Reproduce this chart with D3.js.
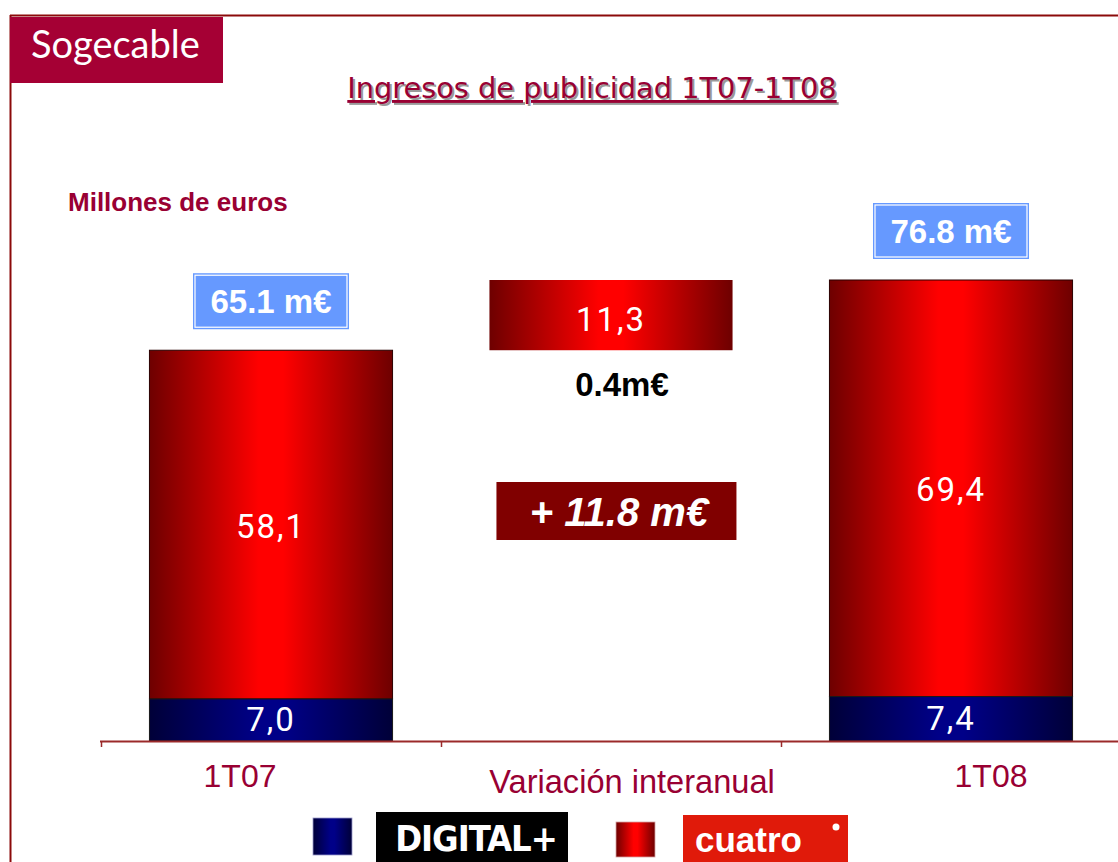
<!DOCTYPE html>
<html><head><meta charset="utf-8">
<script src="https://cdn.jsdelivr.net/npm/d3@7"></script>
<style>html,body{margin:0;padding:0;background:#fff;}svg{display:block;}</style>
</head><body>
<script>
// ---- data ----
const categories = ["1T07", "Variación interanual", "1T08"];
const digitalValues = [7.0, null, 7.4];      // DIGITAL+
const cuatroValues = [58.1, null, 69.4];     // cuatro
const variationCuatro = 11.3;
const variationDigital = 0.4;
const totalLabels = ["65.1 m€", null, "76.8 m€"];
const variationTotalLabel = "+ 11.8 m€";
const variationDigitalLabel = "0.4m€";
const fmt = v => d3.format(".1f")(v).replace(".", ",");

const W = 1118, H = 862;
const crimson = "#990033";
const svg = d3.select("body").append("svg").attr("width", W).attr("height", H);
const defs = svg.append("defs");
function hGrad(id, edge, mid) {
  const g = defs.append("linearGradient").attr("id", id).attr("x1", "0%").attr("x2", "100%").attr("y1", "0%").attr("y2", "0%");
  g.append("stop").attr("offset", "0%").attr("stop-color", edge);
  g.append("stop").attr("offset", "45%").attr("stop-color", mid);
  g.append("stop").attr("offset", "55%").attr("stop-color", mid);
  g.append("stop").attr("offset", "100%").attr("stop-color", edge);
}
hGrad("gRed", "#6e0000", "#ff0000");
hGrad("gBlue", "#000038", "#000088");

// frame
svg.append("line").attr("x1", 10).attr("x2", W).attr("y1", 15.5).attr("y2", 15.5).attr("stroke", "#8b0a0a").attr("stroke-width", 2);
svg.append("line").attr("x1", 10.5).attr("x2", 10.5).attr("y1", 15).attr("y2", H).attr("stroke", "#8b0a0a").attr("stroke-width", 2);

// logo box
svg.append("rect").attr("x", 10).attr("y", 17).attr("width", 213).attr("height", 66).attr("fill", "#a50034");
svg.append("text").attr("x", 31).attr("y", 58).attr("fill", "#fff")
  .style("font-family", "Lato, 'Open Sans', sans-serif").style("font-size", "38px").text("Sogecable");

// title with shadow
const titleText = "Ingresos de publicidad 1T07-1T08";
svg.append("text").attr("x", 594).attr("y", 100).attr("text-anchor", "middle").attr("fill", "#9a9a9a")
  .style("font-family", "'DejaVu Sans', sans-serif").style("font-size", "28.8px").style("text-decoration", "underline").text(titleText);
svg.append("text").attr("x", 592).attr("y", 98).attr("text-anchor", "middle").attr("fill", crimson)
  .style("font-family", "'DejaVu Sans', sans-serif").style("font-size", "28.8px").style("text-decoration", "underline").text(titleText);

svg.append("text").attr("x", 68).attr("y", 211).attr("fill", crimson)
  .style("font-family", "'Liberation Sans', Arial, sans-serif").style("font-weight", "bold").style("font-size", "26px").text("Millones de euros");

// scales
const x = d3.scaleBand().domain(categories).range([101, 1121]).padding(0);
const barW = x.bandwidth() * 0.715;
const totals = categories.map((c, i) => digitalValues[i] == null ? null : digitalValues[i] + cuatroValues[i]);
const y = d3.scaleLinear().domain([0, totals[2]]).range([741, 280]);
const bx = c => x(c) + (x.bandwidth() - barW) / 2;
const cx = c => x(c) + x.bandwidth() / 2;

const labelFont = "Roboto, 'Liberation Sans', sans-serif";
categories.forEach((c, i) => {
  if (digitalValues[i] == null) return;
  const d = digitalValues[i], k = cuatroValues[i];
  svg.append("rect").attr("x", bx(c)).attr("y", y(d + k)).attr("width", barW).attr("height", y(d) - y(d + k))
    .attr("fill", "url(#gRed)").attr("stroke", "#2a0000").attr("stroke-width", 1);
  svg.append("rect").attr("x", bx(c)).attr("y", y(d)).attr("width", barW).attr("height", y(0) - y(d))
    .attr("fill", "url(#gBlue)").attr("stroke", "#1a1a1a").attr("stroke-width", 1);
  svg.append("text").attr("x", cx(c)).attr("y", (y(d + k) + y(d)) / 2 + 13).attr("text-anchor", "middle").attr("fill", "#fff")
    .style("font-family", labelFont).style("font-size", "33px").style("letter-spacing", "2px").text(fmt(k));
  svg.append("text").attr("x", cx(c)).attr("y", (y(d) + y(0)) / 2 + 11).attr("text-anchor", "middle").attr("fill", "#fff")
    .style("font-family", labelFont).style("font-size", "33px").style("letter-spacing", "2px").text(fmt(d));
  const bw = 156, bh = 56, top = y(d + k) - 21 - bh;
  svg.append("rect").attr("x", cx(c) - bw / 2).attr("y", top).attr("width", bw).attr("height", bh).attr("fill", "#6699ff");
  svg.append("rect").attr("x", cx(c) - bw / 2 + 2).attr("y", top + 2).attr("width", bw - 4).attr("height", bh - 4)
    .attr("fill", "none").attr("stroke", "#fff").attr("stroke-width", 1.2);
  svg.append("text").attr("x", cx(c)).attr("y", top + bh / 2 + 12).attr("text-anchor", "middle").attr("fill", "#fff")
    .style("font-family", "'Liberation Sans', Arial, sans-serif").style("font-weight", "bold").style("font-size", "33px").text(totalLabels[i]);
});

// variation (waterfall) bar
const vc = categories[1];
svg.append("rect").attr("x", bx(vc)).attr("y", y(totals[2])).attr("width", barW).attr("height", y(totals[0]) - y(totals[2]))
  .attr("fill", "url(#gRed)");
svg.append("text").attr("x", cx(vc)).attr("y", (y(totals[2]) + y(totals[0])) / 2 + 16).attr("text-anchor", "middle").attr("fill", "#fff")
  .style("font-family", labelFont).style("font-size", "33px").style("letter-spacing", "2px").text(fmt(variationCuatro));
svg.append("text").attr("x", cx(vc) + 11).attr("y", 396).attr("text-anchor", "middle").attr("fill", "#000")
  .style("font-family", "'Liberation Sans', Arial, sans-serif").style("font-weight", "bold").style("font-size", "33px").text(variationDigitalLabel);
svg.append("rect").attr("x", bx(vc) + 7).attr("y", 482).attr("width", 240).attr("height", 58).attr("fill", "#800000");
svg.append("text").attr("x", cx(vc) + 8).attr("y", 526).attr("text-anchor", "middle").attr("fill", "#fff")
  .style("font-family", "'Liberation Sans', Arial, sans-serif").style("font-weight", "bold").style("font-style", "italic").style("font-size", "40px").text(variationTotalLabel);

// axis
const axisCol = "#9b2a2a";
svg.append("line").attr("x1", 100).attr("x2", W).attr("y1", 741.5).attr("y2", 741.5).attr("stroke", axisCol).attr("stroke-width", 2);
categories.forEach(c => {
  svg.append("line").attr("x1", x(c) + 0.5).attr("x2", x(c) + 0.5).attr("y1", 741).attr("y2", 747).attr("stroke", axisCol).attr("stroke-width", 1.5);
});
const labelDx = [-31, 21, 40], labelY = [787, 793, 787], labelSize = [32, 32.6, 32];
categories.forEach((c, i) => {
  svg.append("text").attr("x", cx(c) + labelDx[i]).attr("y", labelY[i]).attr("text-anchor", "middle").attr("fill", crimson)
    .style("font-family", "'Liberation Sans', Arial, sans-serif").style("font-size", labelSize[i] + "px").text(c);
});

// legend
svg.append("rect").attr("x", 313).attr("y", 818).attr("width", 39).attr("height", 37).attr("fill", "url(#gBlue)").attr("stroke", "#9999cc").attr("stroke-width", 0.8);
svg.append("rect").attr("x", 376).attr("y", 812).attr("width", 192).attr("height", 52).attr("fill", "#000");
svg.append("text").attr("x", 476).attr("y", 851).attr("text-anchor", "middle").attr("fill", "#fff")
  .style("font-family", "'Liberation Sans Narrow', 'DejaVu Sans Condensed', sans-serif").style("font-weight", "bold").style("font-size", "36px").style("letter-spacing", "-1px").text("DIGITAL+");
svg.append("rect").attr("x", 616).attr("y", 822).attr("width", 39).attr("height", 35).attr("fill", "url(#gRed)").attr("stroke", "#d8a0a0").attr("stroke-width", 0.8);
svg.append("rect").attr("x", 683).attr("y", 815).attr("width", 165).attr("height", 50).attr("fill", "#e01a0a");
svg.append("text").attr("x", 695).attr("y", 852).attr("fill", "#fff")
  .style("font-family", "'Liberation Sans', Arial, sans-serif").style("font-weight", "bold").style("font-size", "35px").text("cuatro");
svg.append("circle").attr("cx", 836).attr("cy", 827).attr("r", 3.5).attr("fill", "#fff");
</script>
</body></html>
